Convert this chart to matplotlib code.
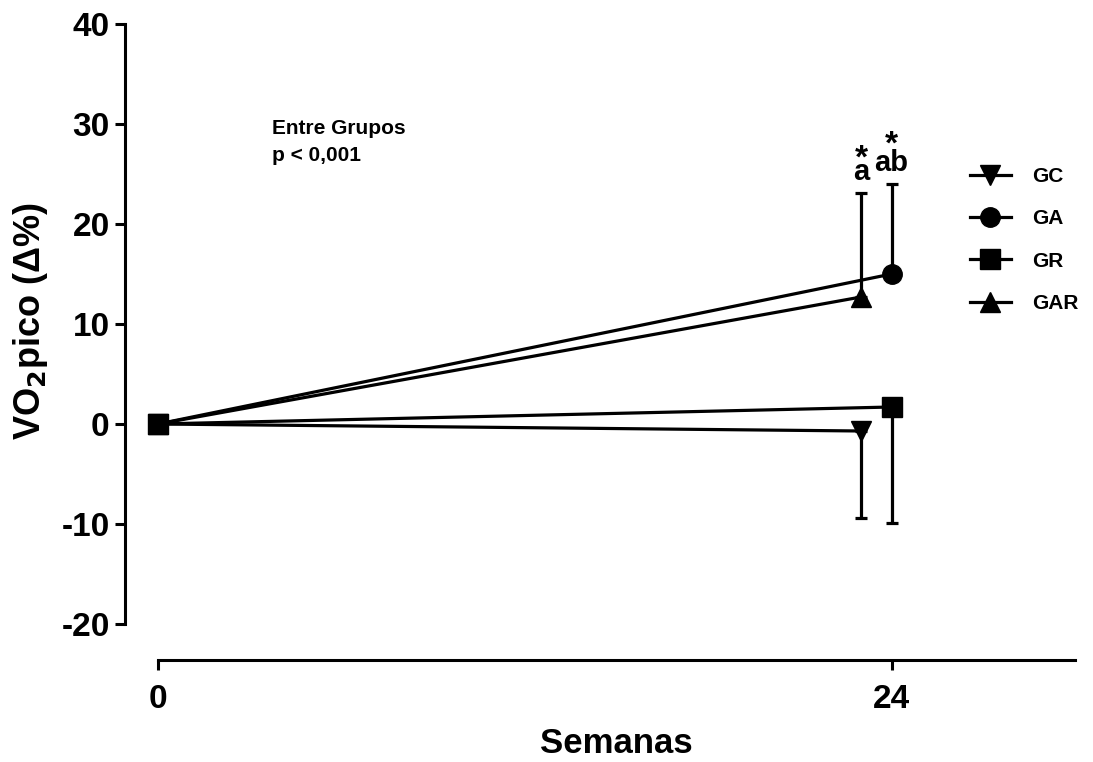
import numpy as np
import matplotlib
matplotlib.use('Agg')
import matplotlib.pyplot as plt

plt.rcParams['font.family'] = ['Liberation Sans', 'DejaVu Sans']
plt.rcParams['font.weight'] = 'bold'
plt.rcParams['axes.unicode_minus'] = False

# dados
grupos = ['GC', 'GA', 'GR', 'GAR']
semanas = [0, 24]
deslocamento = [-1, 0, 0, -1]  # GC e GAR deslocados para a esquerda em 24
media = [[0, -0.7], [0, 15.0], [0, 1.7], [0, 12.7]]
erro_sup = [[0, 0], [0, 9.0], [0, 0], [0, 10.4]]
erro_inf = [[0, 8.7], [0, 0], [0, 11.6], [0, 0]]
marcadores = ['v', 'o', 's', '^']
letras = {'GAR': 'a', 'GA': 'ab'}

fig = plt.figure(figsize=(10.93, 7.62), dpi=100)
ax = fig.add_axes([125 / 1093, (762 - 660) / 762, (1075 - 125) / 1093, (660 - 24) / 762])

for i, g in enumerate(grupos):
    x = np.array(semanas, dtype=float)
    x[1] += deslocamento[i]
    y = np.array(media[i])
    ax.errorbar(x, y, yerr=[erro_inf[i], erro_sup[i]], fmt='none', ecolor='black',
                elinewidth=2.3, capsize=4.3, capthick=2.3, clip_on=False)
    ax.plot(x, y, color='black', lw=2.3, marker=marcadores[i], markersize=14,
            label=g, clip_on=False, zorder=3)
    if g in letras:
        topo = y[1] + erro_sup[i][1]
        ax.annotate(letras[g], (x[1], topo), xytext=(0, 5), textcoords='offset points',
                    ha='center', va='bottom', fontsize=21, fontweight='bold')
        ax.annotate('*', (x[1], topo), xytext=(0, 13 if g == 'GAR' else 17),
                    textcoords='offset points', ha='center', va='bottom',
                    fontsize=24, fontweight='bold')

ax.set_xlim(-1.08, 30)
ax.set_ylim(-23.6, 40)
ax.spines['top'].set_visible(False)
ax.spines['right'].set_visible(False)
ax.spines['left'].set_bounds(-20, 40)
ax.spines['bottom'].set_bounds(0, 30)
ax.spines['left'].set_linewidth(2.2)
ax.spines['bottom'].set_linewidth(2.2)
ax.set_yticks(np.arange(-20, 41, 10))
ax.set_xticks(semanas)
ax.tick_params(width=2.2, length=7, labelsize=24, pad=4)
ax.tick_params(axis='x', pad=10)
for lab in ax.get_xticklabels() + ax.get_yticklabels():
    lab.set_fontweight('bold')

ax.set_xlabel('Semanas', fontsize=25, fontweight='bold')
ax.xaxis.set_label_coords(0.517, -0.105)
ax.set_ylabel('VO$_\\mathbf{2}$pico (Δ%)', fontsize=26, fontweight='bold')
ax.yaxis.set_label_coords(-0.079, 0.533)

ax.text(0.155, 0.85, 'Entre Grupos\np < 0,001', transform=ax.transAxes,
        fontsize=15, fontweight='bold', va='top', linespacing=1.5)

leg = ax.legend(loc='upper left', bbox_to_anchor=(0.889, 0.775), frameon=False,
                fontsize=15, handlelength=2.0, labelspacing=1.12, handletextpad=1.0,
                borderaxespad=0, borderpad=0)
for t in leg.get_texts():
    t.set_fontweight('bold')

fig.savefig('out.png', dpi=100)
